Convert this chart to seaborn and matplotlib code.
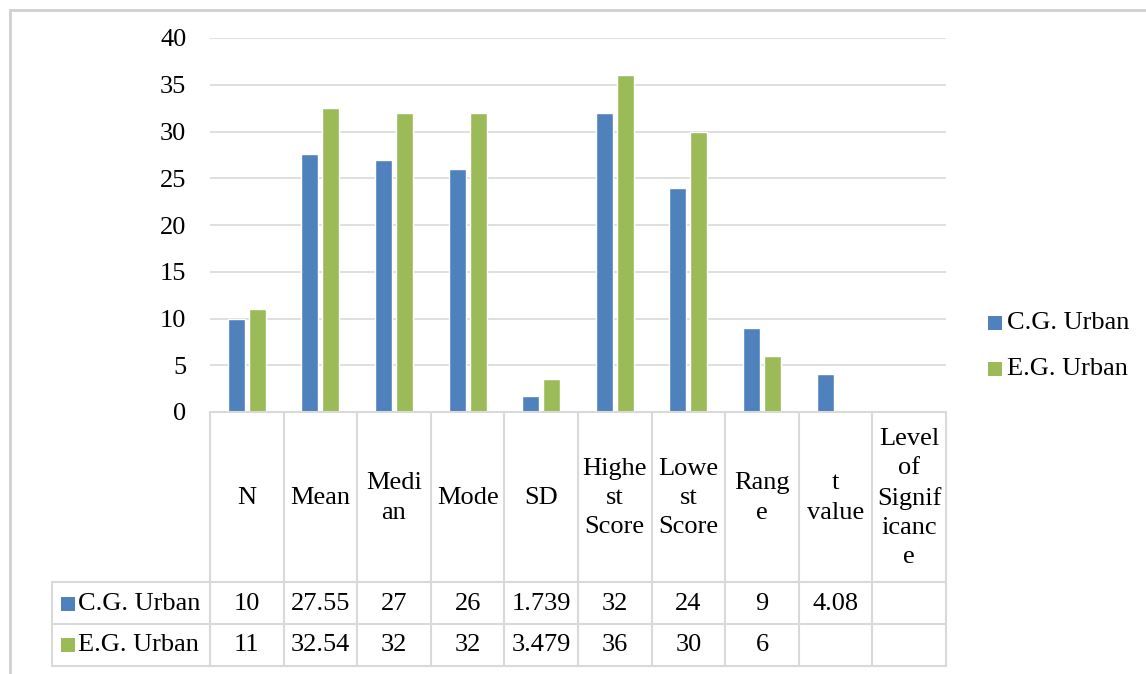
import numpy as np
import pandas as pd
import seaborn as sns
import matplotlib.pyplot as plt
from matplotlib.transforms import blended_transform_factory
from matplotlib.patches import Rectangle
from matplotlib.lines import Line2D

# Statistics for the two urban groups
categories = ["N", "Mean", "Median", "Mode", "SD", "Highest Score",
              "Lowest Score", "Range", "t value", "Level of Significance"]
headers = ["N", "Mean", "Medi\nan", "Mode", "SD", "Highe\nst\nScore",
           "Lowe\nst\nScore", "Rang\ne", "t\nvalue", "Level\nof\nSignif\nicanc\ne"]
cg_urban = [10, 27.55, 27, 26, 1.739, 32, 24, 9, 4.08, np.nan]
eg_urban = [11, 32.54, 32, 32, 3.479, 36, 30, 6, np.nan, np.nan]
series = ["C.G. Urban", "E.G. Urban"]
yticks = [0, 5, 10, 15, 20, 25, 30, 35, 40]

colors = {"C.G. Urban": "#4F81BD", "E.G. Urban": "#9BBB59"}
grid_c = "#D9D9D9"
txt_c = "#000000"
FS = 19

df = pd.DataFrame({
    "category": categories * 2,
    "group": [series[0]] * len(categories) + [series[1]] * len(categories),
    "value": cg_urban + eg_urban,
})

sns.set_theme(style="white")
plt.rcParams["font.family"] = ["Liberation Serif", "DejaVu Serif"]

W, H = 1146, 674
fig = plt.figure(figsize=(W / 100, H / 100), dpi=100)

def fx(px):
    return px / W

def fy(py):
    return 1 - py / H

ax = fig.add_axes([fx(210), fy(412), fx(946) - fx(210), fy(38) - fy(412)])
sns.barplot(data=df, x="category", y="value", hue="group", order=categories,
            hue_order=series, palette=colors, width=0.57, gap=0.19,
            saturation=1, ax=ax, legend=False)

ax.set_ylim(0, 40)
ax.set_xlim(-0.5, len(categories) - 0.5)
ax.set_yticks(yticks)
ax.set_yticklabels([str(t) for t in yticks], fontsize=FS, color=txt_c)
ax.set_xticks([])
ax.set_xlabel("")
ax.set_ylabel("")
ax.tick_params(axis="y", length=0, pad=17)
ax.grid(axis="y", color=grid_c, linewidth=1.2)
ax.set_axisbelow(True)
for s in ax.spines.values():
    s.set_visible(False)

# Data table underneath the plot
bt = blended_transform_factory(ax.transData, fig.transFigure)
ft = fig.transFigure
y_top, y_head, y_r1, y_r2 = fy(412), fy(582), fy(624), fy(666)
lw = 1.5
n = len(categories)
for y in (y_top, y_head, y_r1, y_r2):
    x0 = fx(210) if y == y_top else fx(52)
    fig.add_artist(Line2D([x0, fx(946)], [y, y], transform=ft, color=grid_c, lw=lw))
fig.add_artist(Line2D([fx(52), fx(52)], [y_head, y_r2], transform=ft, color=grid_c, lw=lw))
for i in range(n + 1):
    xe = i - 0.5
    fig.add_artist(Line2D([xe, xe], [y_top, y_r2], transform=bt, color=grid_c, lw=lw))

for i, h in enumerate(headers):
    fig.text(i, fy(498), h, transform=bt, ha="center", va="center",
             fontsize=FS, linespacing=1.42, color=txt_c)

def fmt(v):
    return "" if np.isnan(v) else f"{v:g}"

for vals, name, yc in ((cg_urban, series[0], fy(604)),
                       (eg_urban, series[1], fy(645))):
    for i, v in enumerate(vals):
        fig.text(i, yc, fmt(v), transform=bt, ha="center", va="center",
                 fontsize=FS, color=txt_c)
    fig.add_artist(Rectangle((fx(61), yc - (14 / H) / 2), 14 / W, 14 / H,
                             transform=ft, color=colors[name], lw=0))
    fig.text(fx(78), yc, name, transform=ft, ha="left", va="center",
             fontsize=FS, color=txt_c)

# Legend at the right
for name, py in zip(series, (323, 369)):
    fig.add_artist(Rectangle((fx(988), fy(py) - (14 / H) / 2), 14 / W, 14 / H,
                             transform=ft, color=colors[name], lw=0))
    fig.text(fx(1007), fy(py), name, transform=ft, ha="left", va="center",
             fontsize=FS, color=txt_c)

# Chart frame
fig.add_artist(Line2D([fx(10), fx(10)], [fy(10), 0], transform=ft, color="#D0D0D0", lw=2))
fig.add_artist(Line2D([fx(10), 1], [fy(10), fy(10)], transform=ft, color="#D0D0D0", lw=2))

fig.savefig("out.png", dpi=100)
